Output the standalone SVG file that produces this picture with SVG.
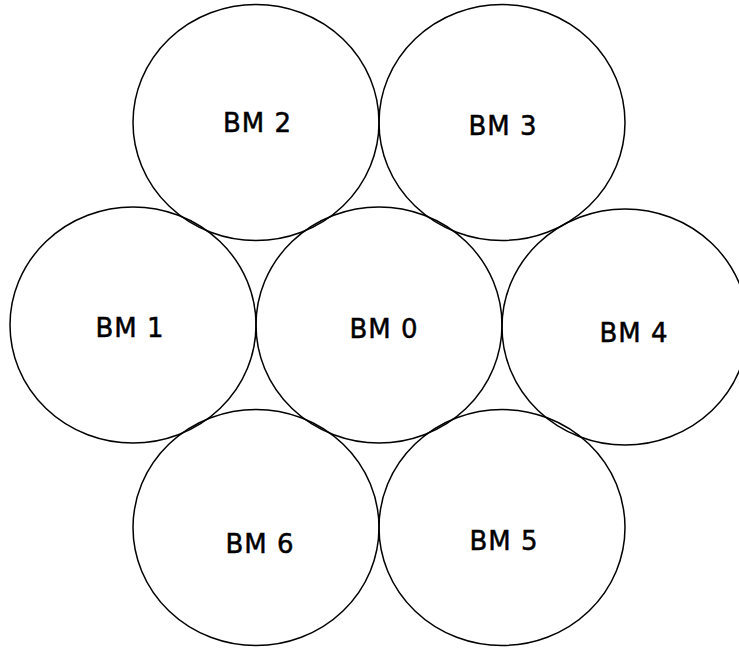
<svg xmlns="http://www.w3.org/2000/svg" width="739" height="648" viewBox="0 0 739 648">
<style>
.c{fill:none;stroke:#000;stroke-width:1.5}
.t{font-family:"DejaVu Sans",sans-serif;font-size:26px;fill:#000;stroke:#000;stroke-width:0.5;letter-spacing:1px;text-anchor:middle}
</style>
<rect width="739" height="648" fill="#fff"/>
<g id="bm2"><ellipse class="c" cx="256" cy="122.5" rx="123" ry="118"/><text class="t" x="257.5" y="132">BM 2</text></g>
<g id="bm3"><ellipse class="c" cx="502" cy="122.5" rx="123" ry="118"/><text class="t" x="503" y="135">BM 3</text></g>
<g id="bm1"><ellipse class="c" cx="133" cy="325" rx="123" ry="118"/><text class="t" x="130" y="337">BM 1</text></g>
<g id="bm0"><ellipse class="c" cx="379" cy="325" rx="123" ry="118"/><text class="t" x="384" y="338">BM 0</text></g>
<g id="bm4"><ellipse class="c" cx="625" cy="327" rx="123" ry="118"/><text class="t" x="634" y="342">BM 4</text></g>
<g id="bm6"><ellipse class="c" cx="256" cy="527.5" rx="123" ry="118"/><text class="t" x="260" y="553">BM 6</text></g>
<g id="bm5"><ellipse class="c" cx="502" cy="527.5" rx="123" ry="118"/><text class="t" x="504" y="550">BM 5</text></g>
<g id="connectors"/>
</svg>
